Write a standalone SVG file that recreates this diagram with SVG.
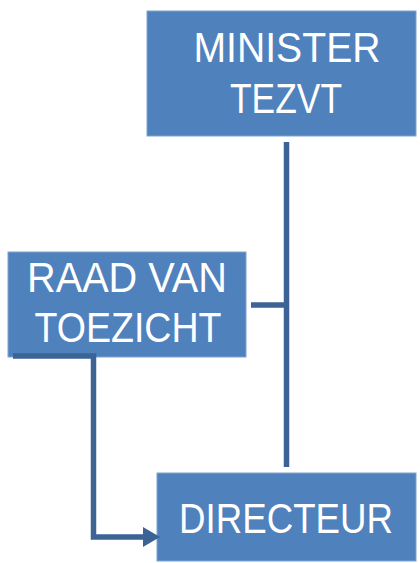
<svg xmlns="http://www.w3.org/2000/svg" width="420" height="563" viewBox="0 0 420 563">
<style>
.box{fill:#4f81bd;stroke:#7fa3d0;stroke-width:1}
.lbl{font-family:"Liberation Sans",Arial,sans-serif;font-size:42px;fill:#ffffff;text-anchor:middle}
.con{fill:none;stroke:#3b6396;stroke-width:5.5}
</style>
<defs>
<marker id="arr" markerUnits="userSpaceOnUse" markerWidth="18" markerHeight="20" refX="1" refY="10" orient="auto">
<path d="M0,0 L17,10 L0,20 Z" fill="#3b6396"/>
</marker>
</defs>
<g id="minister">
<rect class="box" x="147" y="11" width="269" height="125"/>
<text class="lbl" x="287" y="62" textLength="187" lengthAdjust="spacingAndGlyphs">MINISTER</text>
<text class="lbl" x="286" y="113" textLength="112" lengthAdjust="spacingAndGlyphs">TEZVT</text>
</g>
<g id="raad">
<rect class="box" x="8" y="252" width="238" height="105"/>
<text class="lbl" x="127" y="292" textLength="200" lengthAdjust="spacingAndGlyphs">RAAD VAN</text>
<text class="lbl" x="128" y="342" textLength="187" lengthAdjust="spacingAndGlyphs">TOEZICHT</text>
</g>
<g id="directeur">
<rect class="box" x="157" y="473" width="259" height="88"/>
<text class="lbl" x="286" y="533" textLength="214" lengthAdjust="spacingAndGlyphs">DIRECTEUR</text>
</g>
<g id="connectors">
<line class="con" x1="286.5" y1="142" x2="286.5" y2="467"/>
<line class="con" x1="251" y1="305" x2="286.5" y2="305"/>
<path class="con" d="M13,356 H93.5 V537 H144" marker-end="url(#arr)"/>
</g>
</svg>
